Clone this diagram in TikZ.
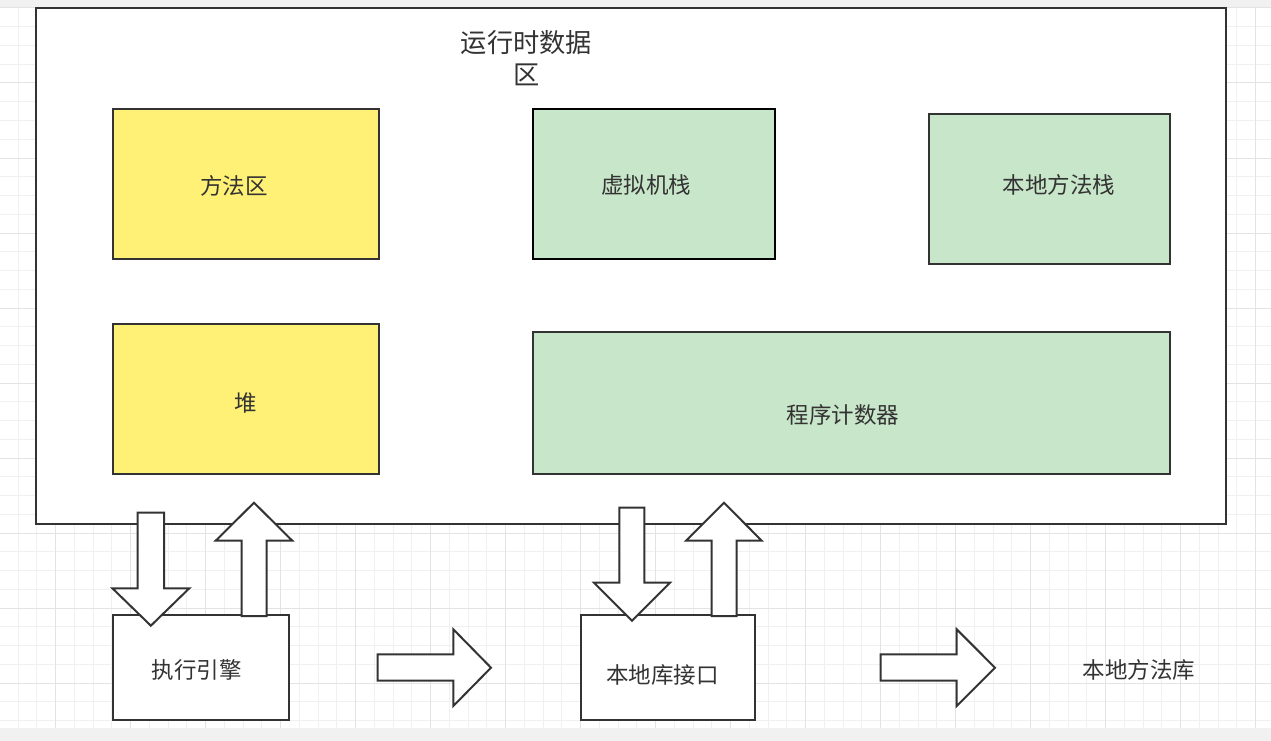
\documentclass[tikz,border=0pt]{standalone}
\usepackage{fontspec}
\newfontfamily\cjk{Noto Sans CJK SC}
\definecolor{edge}{HTML}{333333}
\definecolor{txt}{HTML}{333333}
\definecolor{yel}{HTML}{FFF176}
\definecolor{grn}{HTML}{C8E6C9}
\definecolor{gminor}{HTML}{F0F0F0}
\definecolor{gmajor}{HTML}{E3E3E3}
\definecolor{strip}{HTML}{F1F1F1}
\tikzset{
  box/.style={draw=edge, line width=2bp, inner sep=0pt, outer sep=0pt},
  lbl/.style={font=\cjk\fontsize{22.5bp}{27bp}\selectfont, text=txt, inner sep=0pt},
  blockarrow/.style={draw=edge, fill=white, line width=2bp, line join=miter},
  minorline/.style={draw=gminor, line width=1bp},
  majorline/.style={draw=gmajor, line width=1bp},
}
\begin{document}
\begin{tikzpicture}[x=1bp,y=-1bp]
\useasboundingbox (0,0) rectangle (1271,741);
\fill[white] (0,0) rectangle (1271,741);
% grid
\foreach \k in {0,...,68} \draw[minorline] ({-0.55+\k*18.75},7) -- ({-0.55+\k*18.75},728);
\foreach \k in {0,...,38} \draw[minorline] (0,{8+\k*18.75}) -- (1271,{8+\k*18.75});
\foreach \k in {0,...,17} \draw[majorline] ({-19.3+\k*75},7) -- ({-19.3+\k*75},728);
\foreach \k in {0,...,9} \draw[majorline] (0,{8+\k*75}) -- (1271,{8+\k*75});
\fill[strip] (0,0) rectangle (1271,7);
\fill[strip] (0,728) rectangle (1271,741);
% main runtime data area
\node[box, fill=white, minimum width=1190bp, minimum height=516bp] (rt) at (631,266) {};
\node[lbl, font=\cjk\fontsize{26.25bp}{31.7bp}\selectfont, align=center] (rtl) at (526.5,58) {运行时数据\\区};
% inner boxes
\node[box, fill=yel, minimum width=266bp, minimum height=150bp] (ma) at (246,184) {};
\node[lbl] (mal) at (234,185.5) {方法区};
\node[box, fill=yel, minimum width=266bp, minimum height=150bp] (heap) at (246,399) {};
\node[lbl] (heapl) at (245.5,403.5) {堆};
\node[box, draw=black, fill=grn, minimum width=242bp, minimum height=150bp] (vms) at (654,184) {};
\node[lbl] (vmsl) at (646.3,185) {虚拟机栈};
\node[box, fill=grn, minimum width=241bp, minimum height=150bp] (nms) at (1049.5,189) {};
\node[lbl] (nmsl) at (1059,185) {本地方法栈};
\node[box, fill=grn, minimum width=637bp, minimum height=142bp] (pc) at (851.5,403) {};
\node[lbl] (pcl) at (843,415.3) {程序计数器};
% bottom boxes
\node[box, fill=white, minimum width=176.3bp, minimum height=104.7bp] (eng) at (200.85,667.65) {};
\node[lbl] (engl) at (196.7,670) {执行引擎};
\node[box, fill=white, minimum width=174.3bp, minimum height=104.7bp] (nli) at (667.85,667.65) {};
\node[lbl] (nlil) at (662.5,675) {本地库接口};
\node[lbl] (nml) at (1139,670) {本地方法库};
% block arrows: down into engine
\draw[blockarrow] (137.7,512.7) -- (164,512.7) -- (164,588.3) -- (189.3,588.3) -- (150.85,625.7) -- (112.4,588.3) -- (137.7,588.3) -- cycle;
% up from engine
\draw[blockarrow] (241.7,616) -- (241.7,540.7) -- (215.7,540.7) -- (254,502.7) -- (292.3,540.7) -- (266.7,540.7) -- (266.7,616) -- cycle;
% down into native interface
\draw[blockarrow] (619.3,507.7) -- (644.3,507.7) -- (644.3,582.7) -- (670,582.7) -- (632,620.7) -- (594,582.7) -- (619.3,582.7) -- cycle;
% up from native interface
\draw[blockarrow] (711.7,616) -- (711.7,540.7) -- (686,540.7) -- (724,502.7) -- (761.7,540.7) -- (736.7,540.7) -- (736.7,616) -- cycle;
% right arrows
\draw[blockarrow] (377.7,654.3) -- (453.3,654.3) -- (453.3,629.3) -- (491,667.7) -- (453.3,706) -- (453.3,680.7) -- (377.7,680.7) -- cycle;
\draw[blockarrow] (880.7,654.3) -- (956.7,654.3) -- (956.7,629.3) -- (995,667.7) -- (956.7,706) -- (956.7,680.7) -- (880.7,680.7) -- cycle;
\end{tikzpicture}
\end{document}
